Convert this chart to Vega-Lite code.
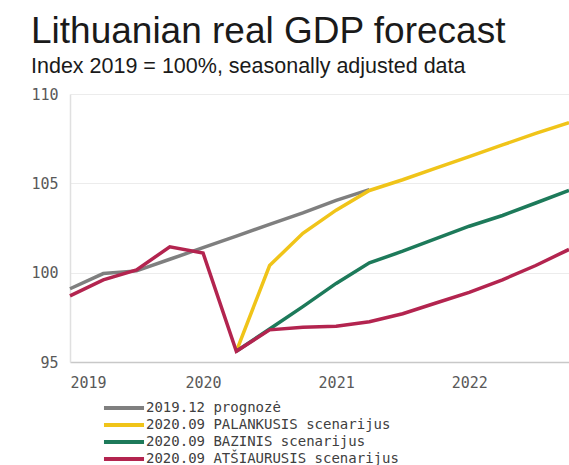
{
  "$schema": "https://vega.github.io/schema/vega-lite/v6.json",
  "autosize": {"type": "none"},
  "padding": {"left": 70, "top": 94, "right": 0, "bottom": 103},
  "width": 499,
  "height": 268,
  "title": {
    "text": "Lithuanian real GDP forecast",
    "subtitle": "Index 2019 = 100%, seasonally adjusted data",
    "anchor": "start",
    "frame": "group",
    "dx": -39,
    "offset": 9,
    "font": "Liberation Sans",
    "fontSize": 37,
    "fontWeight": "normal",
    "color": "#1a1a1a",
    "subtitleFont": "Liberation Sans",
    "subtitleFontSize": 21.5,
    "subtitleColor": "#1a1a1a",
    "subtitlePadding": 5
  },
  "config": {
    "view": {"stroke": null},
    "font": "DejaVu Sans Mono"
  },
  "data": {
    "values": [
      {"t": 2019.0, "series": "2019.12 prognozė", "v": 99.1},
      {"t": 2019.25, "series": "2019.12 prognozė", "v": 99.95},
      {"t": 2019.5, "series": "2019.12 prognozė", "v": 100.1},
      {"t": 2019.75, "series": "2019.12 prognozė", "v": 100.75},
      {"t": 2020.0, "series": "2019.12 prognozė", "v": 101.4},
      {"t": 2020.25, "series": "2019.12 prognozė", "v": 102.05},
      {"t": 2020.5, "series": "2019.12 prognozė", "v": 102.7},
      {"t": 2020.75, "series": "2019.12 prognozė", "v": 103.35},
      {"t": 2021.0, "series": "2019.12 prognozė", "v": 104.05},
      {"t": 2021.25, "series": "2019.12 prognozė", "v": 104.65},

      {"t": 2020.25, "series": "2020.09 PALANKUSIS scenarijus", "v": 95.6},
      {"t": 2020.5, "series": "2020.09 PALANKUSIS scenarijus", "v": 100.4},
      {"t": 2020.75, "series": "2020.09 PALANKUSIS scenarijus", "v": 102.2},
      {"t": 2021.0, "series": "2020.09 PALANKUSIS scenarijus", "v": 103.5},
      {"t": 2021.25, "series": "2020.09 PALANKUSIS scenarijus", "v": 104.6},
      {"t": 2021.5, "series": "2020.09 PALANKUSIS scenarijus", "v": 105.2},
      {"t": 2021.75, "series": "2020.09 PALANKUSIS scenarijus", "v": 105.85},
      {"t": 2022.0, "series": "2020.09 PALANKUSIS scenarijus", "v": 106.5},
      {"t": 2022.25, "series": "2020.09 PALANKUSIS scenarijus", "v": 107.15},
      {"t": 2022.5, "series": "2020.09 PALANKUSIS scenarijus", "v": 107.8},
      {"t": 2022.75, "series": "2020.09 PALANKUSIS scenarijus", "v": 108.4},

      {"t": 2020.25, "series": "2020.09 BAZINIS scenarijus", "v": 95.6},
      {"t": 2020.5, "series": "2020.09 BAZINIS scenarijus", "v": 96.85},
      {"t": 2020.75, "series": "2020.09 BAZINIS scenarijus", "v": 98.1},
      {"t": 2021.0, "series": "2020.09 BAZINIS scenarijus", "v": 99.4},
      {"t": 2021.25, "series": "2020.09 BAZINIS scenarijus", "v": 100.55},
      {"t": 2021.5, "series": "2020.09 BAZINIS scenarijus", "v": 101.2},
      {"t": 2021.75, "series": "2020.09 BAZINIS scenarijus", "v": 101.9},
      {"t": 2022.0, "series": "2020.09 BAZINIS scenarijus", "v": 102.6},
      {"t": 2022.25, "series": "2020.09 BAZINIS scenarijus", "v": 103.2},
      {"t": 2022.5, "series": "2020.09 BAZINIS scenarijus", "v": 103.9},
      {"t": 2022.75, "series": "2020.09 BAZINIS scenarijus", "v": 104.6},

      {"t": 2019.0, "series": "2020.09 ATŠIAURUSIS scenarijus", "v": 98.7},
      {"t": 2019.25, "series": "2020.09 ATŠIAURUSIS scenarijus", "v": 99.6},
      {"t": 2019.5, "series": "2020.09 ATŠIAURUSIS scenarijus", "v": 100.15},
      {"t": 2019.75, "series": "2020.09 ATŠIAURUSIS scenarijus", "v": 101.45},
      {"t": 2020.0, "series": "2020.09 ATŠIAURUSIS scenarijus", "v": 101.1},
      {"t": 2020.25, "series": "2020.09 ATŠIAURUSIS scenarijus", "v": 95.6},
      {"t": 2020.5, "series": "2020.09 ATŠIAURUSIS scenarijus", "v": 96.8},
      {"t": 2020.75, "series": "2020.09 ATŠIAURUSIS scenarijus", "v": 96.95},
      {"t": 2021.0, "series": "2020.09 ATŠIAURUSIS scenarijus", "v": 97.0},
      {"t": 2021.25, "series": "2020.09 ATŠIAURUSIS scenarijus", "v": 97.25},
      {"t": 2021.5, "series": "2020.09 ATŠIAURUSIS scenarijus", "v": 97.7},
      {"t": 2021.75, "series": "2020.09 ATŠIAURUSIS scenarijus", "v": 98.3},
      {"t": 2022.0, "series": "2020.09 ATŠIAURUSIS scenarijus", "v": 98.9},
      {"t": 2022.25, "series": "2020.09 ATŠIAURUSIS scenarijus", "v": 99.6},
      {"t": 2022.5, "series": "2020.09 ATŠIAURUSIS scenarijus", "v": 100.4},
      {"t": 2022.75, "series": "2020.09 ATŠIAURUSIS scenarijus", "v": 101.3}
    ]
  },
  "encoding": {
    "x": {
      "field": "t",
      "type": "quantitative",
      "title": null,
      "scale": {"domain": [2019, 2022.75], "nice": false, "zero": false},
      "axis": {
        "values": [2019, 2020, 2021, 2022],
        "format": "d",
        "grid": false,
        "ticks": false,
        "domainColor": "#c8c8c8",
        "domainWidth": 1.5,
        "labelColor": "#595959",
        "labelFont": "DejaVu Sans Mono",
        "labelFontSize": 15,
        "labelPadding": 13
      }
    },
    "y": {
      "field": "v",
      "type": "quantitative",
      "title": null,
      "scale": {"domain": [95, 110], "nice": false, "zero": false},
      "axis": {
        "values": [95, 100, 105, 110],
        "grid": true,
        "gridColor": "#ececec",
        "ticks": false,
        "domainColor": "#e0e0e0",
        "domainWidth": 1.5,
        "labelColor": "#595959",
        "labelFont": "DejaVu Sans Mono",
        "labelFontSize": 15,
        "labelPadding": 12
      }
    },
    "color": {
      "field": "series",
      "type": "nominal",
      "title": null,
      "scale": {
        "domain": [
          "2019.12 prognozė",
          "2020.09 PALANKUSIS scenarijus",
          "2020.09 BAZINIS scenarijus",
          "2020.09 ATŠIAURUSIS scenarijus"
        ],
        "range": ["#7f7f7f", "#f0c419", "#1d7a5a", "#b3244f"]
      },
      "legend": {
        "orient": "none",
        "legendX": 45,
        "legendY": 305,
        "symbolType": "M-2.86,0H2.86",
        "symbolSize": 196,
        "symbolStrokeWidth": 4,
        "labelFont": "DejaVu Sans Mono",
        "labelFontSize": 14,
        "labelColor": "#404040",
        "labelOffset": 13,
        "labelLimit": 400,
        "rowPadding": -2.5
      }
    }
  },
  "layer": [
    {
      "transform": [{"filter": "datum.series === '2019.12 prognozė'"}],
      "mark": {"type": "line", "strokeWidth": 3.5}
    },
    {
      "transform": [{"filter": "datum.series === '2020.09 PALANKUSIS scenarijus'"}],
      "mark": {"type": "line", "strokeWidth": 3.5}
    },
    {
      "transform": [{"filter": "datum.series === '2020.09 BAZINIS scenarijus'"}],
      "mark": {"type": "line", "strokeWidth": 3.5}
    },
    {
      "transform": [{"filter": "datum.series === '2020.09 ATŠIAURUSIS scenarijus'"}],
      "mark": {"type": "line", "strokeWidth": 3.5}
    }
  ]
}
